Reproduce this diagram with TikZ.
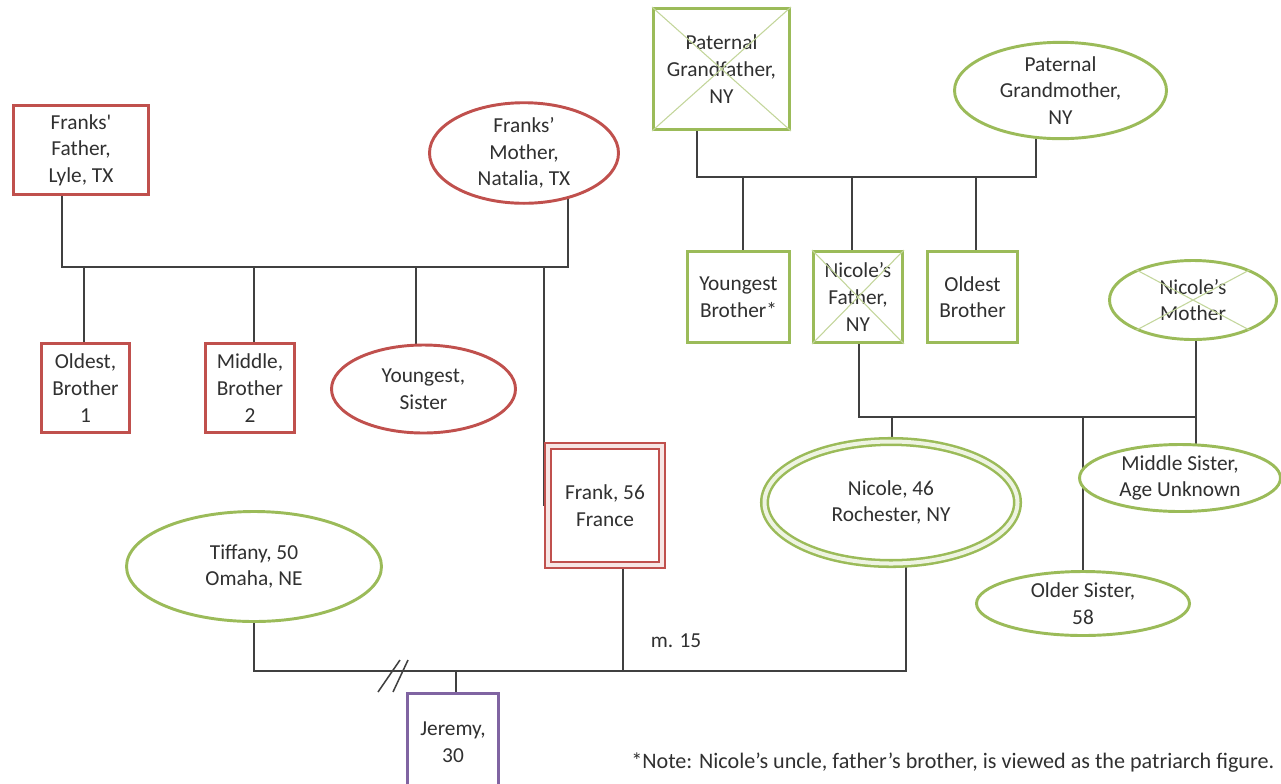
\documentclass[tikz,border=0pt]{standalone}
\usepackage{fontspec}
\setmainfont{Carlito}
% same family without TeX quote ligatures, for a straight apostrophe
\newfontfamily\rawcarlito{Carlito}
\usetikzlibrary{shapes.geometric,backgrounds}

\definecolor{redc}{HTML}{C0504D}
\definecolor{pinkc}{HTML}{F7E6E5}
\definecolor{greenc}{HTML}{9BBB59}
\definecolor{greenx}{HTML}{C3D69B}
\definecolor{greenfill}{HTML}{EEF4E2}
\definecolor{purplec}{HTML}{8064A2}
\definecolor{linec}{HTML}{404040}
\definecolor{textc}{HTML}{303030}

\tikzset{
  x=0.75pt, y=-0.75pt,
  every node/.style={font=\fontsize{16}{20}\selectfont, text=textc, align=center, inner sep=0pt},
  person/.style={line width=2.2pt, fill=white},
  redbox/.style={person, rectangle, draw=redc},
  redoval/.style={person, ellipse, draw=redc},
  greenbox/.style={person, rectangle, draw=greenc},
  greenoval/.style={person, ellipse, draw=greenc},
  purplebox/.style={person, rectangle, draw=purplec},
  indexbox/.style={rectangle, draw=redc, line width=1.7pt, double=pinkc, double distance=2.4pt, fill=white},
  indexoval/.style={ellipse, draw=greenc, line width=1.9pt, double=greenfill, double distance=3pt, fill=white},
  link/.style={draw=linec, line width=1.15pt},
  deceased/.style={draw=greenx, line width=0.8pt},
}

\begin{document}
\begin{tikzpicture}
\useasboundingbox (0,0) rectangle (1281,783);

% ---- Frank's family of origin
\node[redbox, minimum width=101.25pt, minimum height=66.75pt] (ffather) at (81,150) {Franks{\rawcarlito'}\\Father,\\Lyle, TX};
\node[redoval, minimum width=141.75pt, minimum height=66pt] (fmother) at (524,153) {Franks’\\Mother,\\Natalia, TX};
\node[redbox, minimum width=66pt, minimum height=66.75pt] (obro) at (85.5,388) {Oldest,\\Brother\\1};
\node[redbox, minimum width=66.75pt, minimum height=66.75pt] (mbro) at (250,388) {Middle,\\Brother\\2};
\node[redoval, minimum width=138pt, minimum height=66pt] (ysis) at (423.5,389) {Youngest,\\Sister};
\node[indexbox, minimum width=85.5pt, minimum height=89.25pt] (frank) at (605,505.5) {Frank, 56\\France};

% ---- Nicole's paternal side
\node[greenbox, minimum width=102pt, minimum height=90.75pt] (pgf) at (721.5,69) {Paternal\\Grandfather,\\NY};
\node[greenoval, minimum width=159pt, minimum height=64.5pt] (pgm) at (1060.5,90.5) {Paternal\\Grandmother,\\NY};
\node[greenbox, minimum width=76.5pt, minimum height=68.25pt] (ybro) at (738.5,297) {Youngest\\Brother*};
\node[greenbox, minimum width=66.75pt, minimum height=68.25pt] (nfather) at (858,297) {Nicole’s\\Father,\\NY};
\node[greenbox, minimum width=67.5pt, minimum height=68.25pt] (obro2) at (972.5,297) {Oldest\\Brother};
\node[greenoval, minimum width=125.25pt, minimum height=59.25pt] (nmother) at (1193,300) {Nicole’s\\Mother};

% ---- Nicole and her sisters
\node[indexoval, minimum width=189.75pt, minimum height=91.5pt] (nicole) at (891,502.5) {Nicole, 46\\Rochester, NY};
\node[greenoval, minimum width=150.75pt, minimum height=50.25pt] (msis) at (1180,478) {Middle Sister,\\Age Unknown};
\node[greenoval, minimum width=159.75pt, minimum height=48pt] (osis) at (1083,603.5) {Older Sister,\\58};

% ---- Frank's partners and child
\node[greenoval, minimum width=191.25pt, minimum height=82.5pt] (tiff) at (254,566.5) {Tiffany, 50\\Omaha, NE};
\node[purplebox, minimum width=68.25pt, minimum height=72.75pt] (jer) at (453,742) {Jeremy,\\30};

% ---- deceased markers
\draw[deceased] (pgf.north west) -- (pgf.south east) (pgf.north east) -- (pgf.south west);
\draw[deceased] (nfather.north west) -- (nfather.south east) (nfather.north east) -- (nfather.south west);
\draw[deceased] (nmother.152) -- (nmother.-28) (nmother.28) -- (nmother.208);

% ---- labels
\node (marr) at (676,641) {m. 15};
\node[anchor=west, font=\fontsize{16.6}{20}\selectfont] (note) at (631,763) {*Note: Nicole’s uncle, father’s brother, is viewed as the patriarch figure.};

% ---- relationship lines
\coordinate (fbarL) at (62,267);
\coordinate (fbarR) at (568,267);
\coordinate (pbarL) at (697,177);
\coordinate (pbarR) at (1036,177);
\coordinate (nbarL) at (859,417);
\coordinate (nbarR) at (1196,417);
\coordinate (mbarL) at (254,671);
\coordinate (mbarR) at (906,671);
\coordinate (jdrop) at (456,671);
\coordinate (brk) at (393,671);

\begin{scope}[on background layer]
  % Frank's parents and siblings
  \draw[link] (fbarL |- ffather) -- (fbarL) -- (fbarR) -- (fbarR |- fmother);
  \draw[link] (84,0 |- obro) -- (84,0 |- fbarL);
  \draw[link] (254,0 |- mbro) -- (254,0 |- fbarL);
  \draw[link] (416,0 |- ysis) -- (416,0 |- fbarL);
  \draw[link] (544,0 |- frank) -- (544,0 |- fbarL);
  % Nicole's grandparents and their sons
  \draw[link] (pbarL |- pgf) -- (pbarL) -- (pbarR) -- (pbarR |- pgm);
  \draw[link] (743,0 |- ybro) -- (743,0 |- pbarL);
  \draw[link] (852,0 |- nfather) -- (852,0 |- pbarL);
  \draw[link] (976,0 |- obro2) -- (976,0 |- pbarL);
  % Nicole's parents and daughters
  \draw[link] (nbarL |- nfather) -- (nbarL) -- (nbarR);
  \draw[link] (nbarR |- nmother) -- (nbarR |- msis);
  \draw[link, line width=2pt] (nbarR) -- (1196,443);
  \draw[link] (892,0 |- nicole) -- (892,0 |- nbarL);
  \draw[link] (1083,0 |- osis) -- (1083,0 |- nbarL);
  % partnerships
  \draw[link] (tiff) -- (mbarL) -- (mbarR) -- (906,0 |- nicole);
  \draw[link] (623,0 |- frank) -- (623,0 |- mbarL);
  \draw[link] (jdrop) -- (jdrop |- jer);
\end{scope}

% divorce mark
\draw[link] ([shift={(-15,21)}]brk) -- ([shift={(7,-11)}]brk);
\draw[link] ([shift={(0,21)}]brk) -- ([shift={(15,-11)}]brk);
\end{tikzpicture}
\end{document}
